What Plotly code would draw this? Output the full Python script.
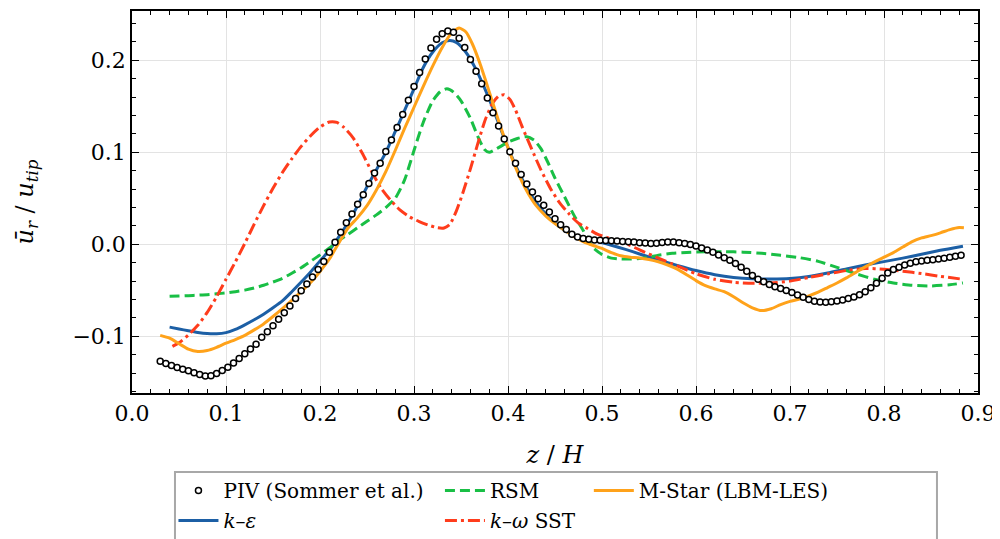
import plotly.graph_objects as go

# -----------------------
# Data
# -----------------------

z_piv = [
    0.030, 0.036, 0.042, 0.048, 0.054, 0.060, 0.066, 0.072, 0.078, 0.084,
    0.090, 0.096, 0.102, 0.108, 0.114, 0.120, 0.126, 0.132, 0.138, 0.144,
    0.150, 0.156, 0.162, 0.168, 0.174, 0.180, 0.186, 0.192, 0.198, 0.204,
    0.210, 0.216, 0.222, 0.228, 0.234, 0.240, 0.246, 0.252, 0.258, 0.264,
    0.270, 0.276, 0.282, 0.288, 0.294, 0.300, 0.306, 0.312, 0.318, 0.324,
    0.330, 0.336, 0.342, 0.348, 0.354, 0.360, 0.366, 0.372, 0.378, 0.384,
    0.390, 0.396, 0.402, 0.408, 0.414, 0.420, 0.426, 0.432, 0.438, 0.444,
    0.450, 0.456, 0.462, 0.468, 0.474, 0.480, 0.486, 0.492, 0.498, 0.504,
    0.510, 0.516, 0.522, 0.528, 0.534, 0.540, 0.546, 0.552, 0.558, 0.564,
    0.570, 0.576, 0.582, 0.588, 0.594, 0.600, 0.606, 0.612, 0.618, 0.624,
    0.630, 0.636, 0.642, 0.648, 0.654, 0.660, 0.666, 0.672, 0.678, 0.684,
    0.690, 0.696, 0.702, 0.708, 0.714, 0.720, 0.726, 0.732, 0.738, 0.744,
    0.750, 0.756, 0.762, 0.768, 0.774, 0.780, 0.786, 0.792, 0.798, 0.804,
    0.810, 0.816, 0.822, 0.828, 0.834, 0.840, 0.846, 0.852, 0.858, 0.864,
    0.870, 0.876, 0.882,
]
u_piv = [
    -0.1272, -0.1295, -0.1318, -0.1338, -0.1357, -0.1375, -0.1395, -0.1415, -0.1432, -0.1428,
    -0.1405, -0.1372, -0.1335, -0.1290, -0.1240, -0.1190, -0.1138, -0.1085, -0.1010, -0.0950,
    -0.0885, -0.0815, -0.0745, -0.0670, -0.0590, -0.0505, -0.0430, -0.0355, -0.0275, -0.0187,
    -0.0086, 0.0022, 0.0130, 0.0235, 0.0330, 0.0435, 0.0540, 0.0660, 0.0775, 0.0880,
    0.1010, 0.1135, 0.1270, 0.1410, 0.1565, 0.1715, 0.1867, 0.2013, 0.2135, 0.2230,
    0.2290, 0.2318, 0.2305, 0.2240, 0.2140, 0.2010, 0.1880, 0.1745, 0.1590, 0.1430,
    0.1285, 0.1145, 0.1005, 0.0880, 0.0760, 0.0655, 0.0570, 0.0495, 0.0425, 0.0350,
    0.0278, 0.0213, 0.0160, 0.0110, 0.0080, 0.0062, 0.0054, 0.0048, 0.0044, 0.0042,
    0.0040, 0.0036, 0.0032, 0.0028, 0.0024, 0.0018, 0.0014, 0.0010, 0.0012, 0.0020,
    0.0025, 0.0024, 0.0017, 0.0008, -0.0002, -0.0018, -0.0040, -0.0062, -0.0086, -0.0115,
    -0.0145, -0.0172, -0.0208, -0.0248, -0.0292, -0.0340, -0.0380, -0.0406, -0.0438, -0.0460,
    -0.0480, -0.0502, -0.0525, -0.0550, -0.0576, -0.0600, -0.0618, -0.0628, -0.0630, -0.0625,
    -0.0615, -0.0605, -0.0590, -0.0572, -0.0548, -0.0515, -0.0472, -0.0424, -0.0368, -0.0312,
    -0.0275, -0.0248, -0.0225, -0.0206, -0.0190, -0.0180, -0.0173, -0.0167, -0.0160, -0.0151,
    -0.0141, -0.0130, -0.0118,
]

z_ke = [0.040, 0.050, 0.060, 0.070, 0.080, 0.090, 0.100, 0.110, 0.120, 0.130,
        0.140, 0.150, 0.160, 0.170, 0.180, 0.190, 0.200, 0.210, 0.220, 0.230,
        0.240, 0.250, 0.260, 0.270, 0.280, 0.290, 0.300, 0.310, 0.320, 0.330,
        0.338, 0.345, 0.355, 0.365, 0.375, 0.385, 0.395, 0.405, 0.415, 0.425,
        0.435, 0.445, 0.455, 0.465, 0.475, 0.485, 0.495, 0.510, 0.525, 0.540,
        0.560, 0.580, 0.600, 0.620, 0.640, 0.660, 0.680, 0.700, 0.720, 0.740,
        0.760, 0.780, 0.800, 0.820, 0.840, 0.860, 0.884]
u_ke = [-0.0900, -0.0920, -0.0940, -0.0958, -0.0970, -0.0972, -0.0960, -0.0925, -0.0875, -0.0820,
        -0.0760, -0.0690, -0.0615, -0.0515, -0.0410, -0.0300, -0.0180, -0.0065, 0.0080, 0.0240,
        0.0420, 0.0625, 0.0810, 0.1000, 0.1225, 0.1455, 0.1690, 0.1925, 0.2090, 0.2190,
        0.2215, 0.2195, 0.2090, 0.1920, 0.1700, 0.1450, 0.1180, 0.0930, 0.0710, 0.0530,
        0.0390, 0.0280, 0.0190, 0.0120, 0.0075, 0.0045, 0.0030, -0.0010, -0.0055, -0.0105,
        -0.0170, -0.0230, -0.0285, -0.0330, -0.0360, -0.0375, -0.0378, -0.0372, -0.0350, -0.0312,
        -0.0268, -0.0225, -0.0188, -0.0150, -0.0108, -0.0065, -0.0020]

z_rsm = [0.040, 0.050, 0.060, 0.070, 0.080, 0.090, 0.100, 0.110, 0.120, 0.130,
         0.140, 0.150, 0.160, 0.170, 0.180, 0.190, 0.200, 0.210, 0.220, 0.230,
         0.240, 0.250, 0.260, 0.270, 0.280, 0.290, 0.300, 0.310, 0.320, 0.328,
         0.335, 0.342, 0.350, 0.360, 0.368, 0.375, 0.380, 0.388, 0.400, 0.410,
         0.420, 0.428, 0.435, 0.442, 0.450, 0.460, 0.470, 0.480, 0.490, 0.500,
         0.510, 0.520, 0.530, 0.540, 0.550, 0.560, 0.575, 0.590, 0.610, 0.630,
         0.650, 0.670, 0.690, 0.710, 0.730, 0.750, 0.770, 0.790, 0.810, 0.830,
         0.850, 0.870, 0.884]
u_rsm = [-0.0565, -0.0562, -0.0558, -0.0553, -0.0547, -0.0538, -0.0528, -0.0515, -0.0498, -0.0475,
         -0.0445, -0.0410, -0.0370, -0.0315, -0.0255, -0.0185, -0.0115, -0.0040, 0.0040, 0.0110,
         0.0180, 0.0250, 0.0320, 0.0400, 0.0500, 0.0700, 0.1020, 0.1330, 0.1560, 0.1660,
         0.1690, 0.1655, 0.1560, 0.1370, 0.1170, 0.1030, 0.1000, 0.1040, 0.1110, 0.1150,
         0.1170, 0.1130, 0.1040, 0.0900, 0.0720, 0.0520, 0.0320, 0.0150, -0.0030, -0.0110,
         -0.0150, -0.0160, -0.0160, -0.0155, -0.0140, -0.0118, -0.0098, -0.0088, -0.0082, -0.0080,
         -0.0085, -0.0098, -0.0120, -0.0145, -0.0185, -0.0250, -0.0320, -0.0380, -0.0420, -0.0445,
         -0.0452, -0.0440, -0.0420]

z_sst = [0.043, 0.050, 0.060, 0.070, 0.080, 0.090, 0.100, 0.110, 0.120, 0.130,
         0.140, 0.150, 0.160, 0.170, 0.180, 0.190, 0.200, 0.210, 0.218, 0.225,
         0.235, 0.245, 0.255, 0.265, 0.275, 0.285, 0.295, 0.305, 0.315, 0.325,
         0.332, 0.338, 0.345, 0.352, 0.360, 0.368, 0.376, 0.384, 0.390, 0.396,
         0.402, 0.408, 0.415, 0.425, 0.435, 0.445, 0.455, 0.465, 0.475, 0.485,
         0.495, 0.505, 0.515, 0.525, 0.540, 0.560, 0.580, 0.600, 0.620, 0.640,
         0.660, 0.680, 0.700, 0.720, 0.740, 0.760, 0.780, 0.800, 0.820, 0.840,
         0.860, 0.884]
u_sst = [-0.1110, -0.1070, -0.0985, -0.0880, -0.0740, -0.0570, -0.0380, -0.0190, 0.0010, 0.0220,
         0.0420, 0.0610, 0.0780, 0.0930, 0.1065, 0.1180, 0.1275, 0.1330, 0.1325, 0.1275,
         0.1160, 0.0990, 0.0790, 0.0610, 0.0480, 0.0375, 0.0300, 0.0250, 0.0210, 0.0180,
         0.0178, 0.0215, 0.0360, 0.0560, 0.0820, 0.1100, 0.1360, 0.1540, 0.1610, 0.1625,
         0.1575, 0.1460, 0.1280, 0.1040, 0.0810, 0.0610, 0.0450, 0.0330, 0.0230, 0.0170,
         0.0110, 0.0075, 0.0040, 0.0010, -0.0060, -0.0150, -0.0235, -0.0320, -0.0380, -0.0412,
         -0.0424, -0.0420, -0.0400, -0.0360, -0.0322, -0.0285, -0.0262, -0.0270, -0.0292, -0.0318,
         -0.0348, -0.0380]

z_mstar = [0.030, 0.040, 0.050, 0.060, 0.070, 0.080, 0.090, 0.100, 0.110, 0.120,
           0.130, 0.140, 0.150, 0.160, 0.170, 0.180, 0.190, 0.200, 0.210, 0.220,
           0.230, 0.240, 0.250, 0.260, 0.270, 0.280, 0.290, 0.300, 0.310, 0.320,
           0.330, 0.340, 0.348, 0.355, 0.362, 0.370, 0.380, 0.390, 0.400, 0.410,
           0.420, 0.430, 0.440, 0.450, 0.460, 0.470, 0.480, 0.490, 0.500, 0.510,
           0.520, 0.530, 0.540, 0.550, 0.560, 0.570, 0.580, 0.590, 0.600, 0.610,
           0.620, 0.630, 0.640, 0.650, 0.660, 0.670, 0.680, 0.690, 0.700, 0.710,
           0.720, 0.730, 0.740, 0.750, 0.760, 0.770, 0.780, 0.790, 0.800, 0.810,
           0.820, 0.830, 0.840, 0.850, 0.860, 0.870, 0.880, 0.885]
u_mstar = [-0.0990, -0.1020, -0.1080, -0.1140, -0.1165, -0.1155, -0.1120, -0.1075, -0.1035, -0.0990,
           -0.0930, -0.0865, -0.0785, -0.0700, -0.0610, -0.0515, -0.0415, -0.0295, -0.0160, 0.0015,
           0.0180, 0.0290, 0.0420, 0.0590, 0.0790, 0.1020, 0.1260, 0.1490, 0.1720, 0.1940,
           0.2140, 0.2300, 0.2350, 0.2310, 0.2180, 0.1970, 0.1660, 0.1340, 0.1050, 0.0790,
           0.0580, 0.0420, 0.0310, 0.0225, 0.0155, 0.0085, 0.0030, -0.0010, -0.0045, -0.0090,
           -0.0125, -0.0140, -0.0148, -0.0165, -0.0190, -0.0225, -0.0270, -0.0330, -0.0395, -0.0450,
           -0.0485, -0.0515, -0.0570, -0.0635, -0.0690, -0.0720, -0.0700, -0.0655, -0.0620, -0.0595,
           -0.0560, -0.0520, -0.0470, -0.0420, -0.0365, -0.0305, -0.0245, -0.0190, -0.0140, -0.0090,
           -0.0030, 0.0030, 0.0070, 0.0095, 0.0125, 0.0160, 0.0183, 0.0180]

x_ticks = [0.0, 0.1, 0.2, 0.3, 0.4, 0.5, 0.6, 0.7, 0.8, 0.9]
y_ticks = [-0.1, 0.0, 0.1, 0.2]

# -----------------------
# Figure
# -----------------------

FONT = "DejaVu Serif, Liberation Serif, serif"

fig = go.Figure()

fig.add_trace(go.Scatter(
    x=z_ke, y=u_ke, mode="lines", name="<i>k</i>–<i>ε</i>",
    line=dict(color="#1c5fa5", width=3, shape="spline", smoothing=0.6),
    legend="legend", legendgroup="ke",
))
fig.add_trace(go.Scatter(
    x=z_rsm, y=u_rsm, mode="lines", name="RSM",
    line=dict(color="#19bf45", width=3, dash="10px,5px", shape="spline", smoothing=0.6),
    legend="legend2", legendgroup="rsm",
))
fig.add_trace(go.Scatter(
    x=z_sst, y=u_sst, mode="lines", name="<i>k</i>–<i>ω</i> SST",
    line=dict(color="#ff3c1c", width=3, dash="12px,4px,3px,4px", shape="spline", smoothing=0.6),
    legend="legend2", legendgroup="sst",
))
fig.add_trace(go.Scatter(
    x=z_mstar, y=u_mstar, mode="lines", name="M-Star (LBM-LES)",
    line=dict(color="#ffa21a", width=3, shape="spline", smoothing=0.6),
    legend="legend3", legendgroup="mstar",
))
fig.add_trace(go.Scatter(
    x=z_piv, y=u_piv, mode="markers", name="PIV (Sommer et al.)",
    marker=dict(symbol="circle", size=6, color="white",
                line=dict(color="black", width=1.5)),
    legend="legend", legendgroup="piv", legendrank=1,
))

axis_common = dict(
    showline=True, linecolor="black", linewidth=1.5, mirror="allticks",
    ticks="inside", ticklen=7, tickwidth=1.2, tickcolor="black",
    showgrid=True, gridcolor="#e3e3e3", gridwidth=1,
    zeroline=False, tickformat=".1f",
    tickfont=dict(family=FONT, size=22, color="black"),
    minor=dict(ticks="inside", ticklen=4, tickwidth=1, tickcolor="black",
               dtick=0.02, showgrid=False),
)

# the page adds an 8 px body margin, so the figure is 8 px smaller than the window
fig.update_xaxes(
    range=[0.0, 0.9], tickvals=x_ticks,
    title=dict(text="<i>z</i> / <i>H</i>", font=dict(family=FONT, size=24, color="black"),
               standoff=21),
    **axis_common,
)
fig.update_yaxes(
    range=[-0.1616, 0.2536], tickvals=y_ticks,
    title=dict(text="<i>ū</i><sub><i>r</i></sub> / <i>u</i><sub><i>tip</i></sub>",
               font=dict(family=FONT, size=24, color="black"), standoff=32),
    **axis_common,
)

leg_common = dict(
    orientation="v", yanchor="top", xanchor="left",
    bgcolor="rgba(0,0,0,0)", borderwidth=0,
    font=dict(family=FONT, size=20, color="black"),
    tracegroupgap=1, itemwidth=40,
)

fig.update_layout(
    width=992, height=531,
    margin=dict(l=124, r=22, t=3, b=146, autoexpand=False),
    paper_bgcolor="white", plot_bgcolor="white",
    showlegend=True,
    legend=dict(x=0.049, y=-0.204, **leg_common),
    legend2=dict(x=0.364, y=-0.204, **leg_common),
    legend3=dict(x=0.540, y=-0.204, **leg_common),
    shapes=[dict(
        type="rect", xref="paper", yref="paper",
        x0=0.0508, x1=0.9515, y0=-0.2068, y1=-0.45,
        line=dict(color="#a8a8a8", width=2), fillcolor="rgba(0,0,0,0)",
        layer="above",
    )],
)

fig.write_html("out.html")
